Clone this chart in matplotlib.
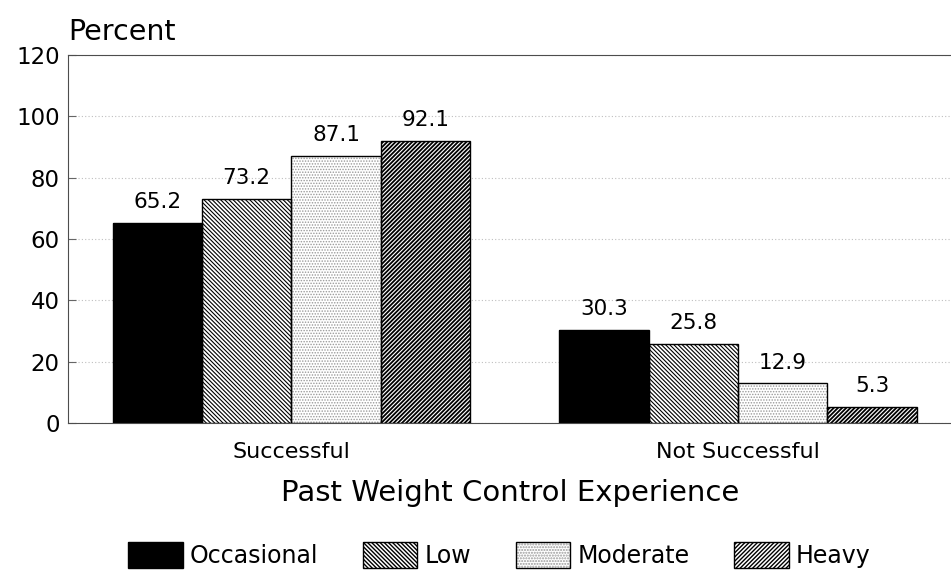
import matplotlib.pyplot as plt
import matplotlib.patches as mpatches
from matplotlib.legend_handler import HandlerTuple
import numpy as np

plt.rcParams['font.family'] = ['DejaVu Sans']

groups = ['Successful', 'Not Successful']
series = ['Occasional', 'Low', 'Moderate', 'Heavy']
values = {
    'Occasional': [65.2, 30.3],
    'Low': [73.2, 25.8],
    'Moderate': [87.1, 12.9],
    'Heavy': [92.1, 5.3],
}
yticks = [0, 20, 40, 60, 80, 100, 120]

# fill, hatch, hatch colour, hatch line width per series
styles = {
    'Occasional': ('black', None, 'black', 1.0),
    'Low': ('white', '\\' * 8, 'black', 0.8),
    'Moderate': ('white', '......', '0.6', 0.7),
    'Heavy': ('white', '/' * 8, 'black', 1.3),
}

fig = plt.figure(figsize=(9.51, 5.72), dpi=100)
ax = fig.add_axes([0.0715, 0.2605, 0.93, 0.643])

x = np.arange(len(groups))
w = 0.2
handles = []
for i, name in enumerate(series):
    fc, hatch, hc, hlw = styles[name]
    pos = x + (i - 1.5) * w
    with plt.rc_context({'hatch.linewidth': hlw}):
        ax.bar(pos, values[name], w, color=fc, hatch=hatch, edgecolor=hc, linewidth=0, zorder=2)
        h1 = mpatches.Patch(facecolor=fc, hatch=hatch, edgecolor=hc, linewidth=0)
    ax.bar(pos, values[name], w, facecolor='none', edgecolor='black', linewidth=1.0, zorder=3)
    for px, v in zip(pos, values[name]):
        ax.text(px, v + 3.5, f'{v:.1f}', ha='center', va='bottom', fontsize=15.5)
    h2 = mpatches.Patch(facecolor='none', edgecolor='black', linewidth=1.0)
    handles.append((h1, h2))

ax.set_xlim(-0.5, 1.48)
ax.set_ylim(0, 120)
ax.set_yticks(yticks)
ax.set_xticks(x)
ax.set_xticklabels(groups, fontsize=16)
ax.tick_params(axis='x', length=0, pad=14)
ax.tick_params(axis='y', direction='in', length=6, labelsize=16.5, color='0.4', pad=6)
ax.yaxis.grid(True, linestyle=(0, (1, 2)), color='0.75', linewidth=0.8, zorder=0)
ax.set_axisbelow(True)
ax.spines['right'].set_visible(False)
for s in ['left', 'top', 'bottom']:
    ax.spines[s].set_color('0.3')
ax.set_xlabel('Past Weight Control Experience', fontsize=21, labelpad=12)
ax.text(0.0, 1.025, 'Percent', transform=ax.transAxes, fontsize=20.5, ha='left', va='bottom')

fig.legend(handles, series, loc='lower center', bbox_to_anchor=(0.525, -0.03), ncol=4,
           frameon=False, fontsize=17, handlelength=2.3, handleheight=1.3,
           handletextpad=0.3, columnspacing=1.9,
           handler_map={tuple: HandlerTuple(ndivide=1, pad=0)})

fig.savefig('out.png', dpi=100)
